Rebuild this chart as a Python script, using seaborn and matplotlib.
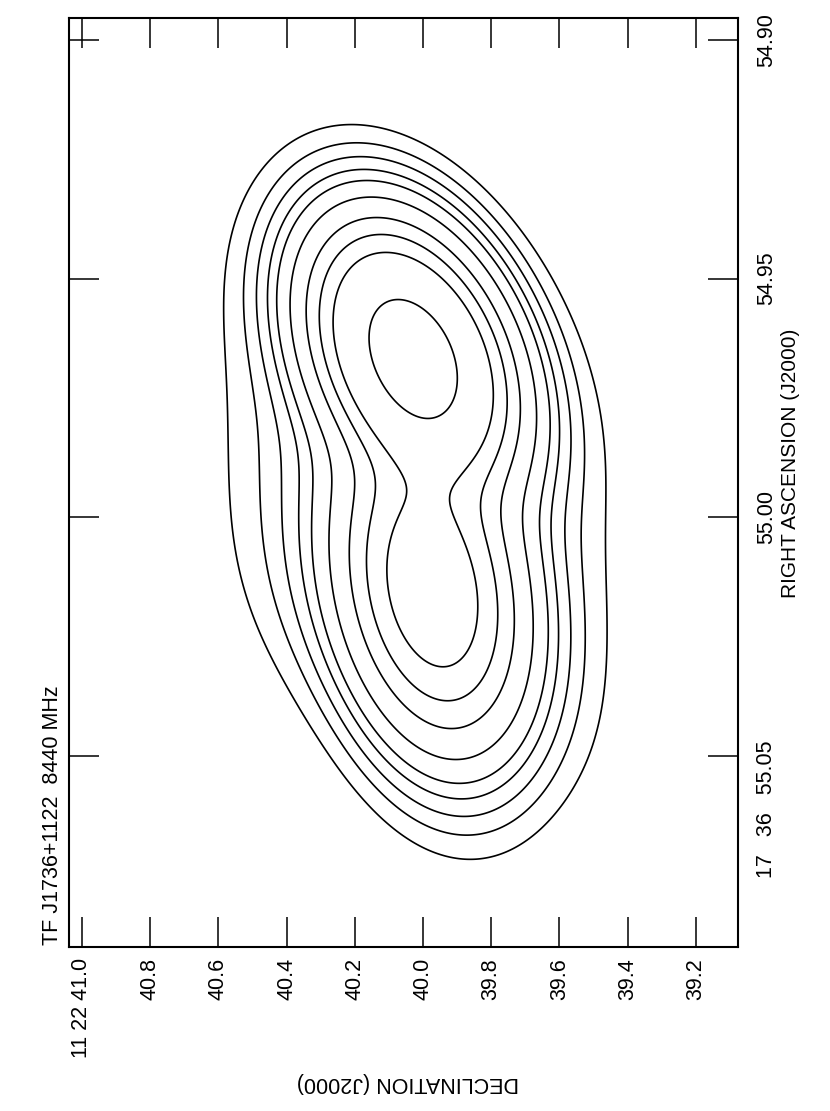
import numpy as np
import matplotlib
matplotlib.use("Agg")
import matplotlib.pyplot as plt
import seaborn as sns
from matplotlib.transforms import ScaledTranslation, blended_transform_factory

sns.set_theme(style="white")
plt.rcParams["font.family"] = ["Liberation Sans", "DejaVu Sans"]

# ---------------- text ----------------
title = "TF J1736+1122  8440 MHz"
x_label = "DECLINATION (J2000)"
y_label = "RIGHT ASCENSION (J2000)"

# ---------------- axes ----------------
dec_ticks = [41.0, 40.8, 40.6, 40.4, 40.2, 40.0, 39.8, 39.6, 39.4, 39.2]
dec_tick_labels = ["11 22 41.0", "40.8", "40.6", "40.4", "40.2",
                   "40.0", "39.8", "39.6", "39.4", "39.2"]
ra_ticks = [54.90, 54.95, 55.00, 55.05]
ra_tick_labels = ["54.90", "54.95", "55.00", "17   36   55.05"]
dec_range = [41.038, 39.076]
ra_range = [55.090, 54.8954]

# ---------------- contour crossings ----------------
# level index (1 = outermost ... 10 = innermost), Dec (arcsec), RA (s)
cont_level = ([1] * 16 + [2] * 13 + [3, 3, 4, 4, 5, 5, 6, 6, 7, 7, 8, 8]
              + [9] * 20 + [10] * 11)
cont_dec = [
    # level 1
    40.261, 40.408, 40.563, 40.569, 40.569, 40.513, 40.308, 40.103,
    39.956, 39.713, 39.528, 39.463, 39.487, 39.537, 39.674, 39.968,
    # level 2
    40.261, 40.425, 40.481, 40.446, 40.358, 40.144, 39.868, 39.616,
    39.507, 39.545, 39.566, 39.713, 39.909,
    # levels 3-8 (across the waist)
    40.422, 39.601, 40.372, 39.639, 40.337, 39.698,
    40.284, 39.736, 40.220, 39.795, 40.161, 39.850,
    # level 9
    40.161, 40.226, 40.191, 40.123, 40.056, 40.103, 40.117, 40.094,
    40.044, 39.927, 39.859, 39.839, 39.859, 39.897, 39.924, 39.889,
    39.839, 39.830, 39.850, 39.909,
    # level 10
    40.123, 40.152, 40.144, 40.103, 40.044, 39.985, 39.938, 39.909,
    39.927, 39.968, 40.044,
]
cont_ra = [
    # level 1
    54.9189, 54.9214, 54.9419, 54.9754, 54.9964, 55.0173, 55.0418, 55.0599,
    55.0712, 55.0687, 55.0557, 55.0347, 54.9999, 54.9656, 54.9461, 54.9258,
    # level 2
    54.9230, 54.9300, 54.9964, 55.0159, 55.0293, 55.0523, 55.0620, 55.0557,
    55.0347, 54.9964, 54.9670, 54.9440, 54.9321,
    # levels 3-8
    54.9964, 54.9964, 54.9964, 54.9964, 54.9964, 54.9964,
    54.9964, 54.9964, 54.9964, 54.9964, 54.9964, 54.9964,
    # level 9
    54.9467, 54.9545, 54.9754, 54.9895, 54.9964, 55.0048, 55.0138, 55.0209,
    55.0272, 55.0309, 55.0278, 55.0209, 55.0104, 55.0033, 54.9964, 54.9895,
    54.9790, 54.9685, 54.9614, 54.9524,
    # level 10
    54.9538, 54.9608, 54.9670, 54.9719, 54.9775, 54.9792, 54.9775, 54.9706,
    54.9629, 54.9580, 54.9538,
]

# ---------------- source model shapes ----------------
# compact knots (Dec, RA, sigma major/minor arcsec, tilt deg)
knot_dec = [40.029, 39.971]
knot_ra = [54.9664, 55.0152]
knot_major = [0.200, 0.240]
knot_minor = [0.123, 0.126]
knot_tilt = [23.0, 10.0]
# ridge line (start, end) smoothed by two tilted beams
ridge_dec = [40.023, 40.023]
ridge_ra = [54.9578, 55.0322]
ridge_major = [0.258, 0.400]
ridge_minor = [0.162, 0.250]
ridge_tilt = [45.0, 45.0]
# diffuse halo
halo_dec, halo_ra = 40.0205, 54.9953
halo_major, halo_minor, halo_tilt = 0.70, 0.45, 10.0

cosd = np.cos(np.deg2rad(11 + 22 / 60 + 40 / 3600))


def erf(x):
    s = np.sign(x)
    x = np.abs(x)
    t = 1.0 / (1.0 + 0.3275911 * x)
    y = 1.0 - (((((1.061405429 * t - 1.453152027) * t) + 1.421413741) * t
                - 0.284496736) * t + 0.254829592) * t * np.exp(-x * x)
    return s * y


def offsets(dec, ra, d0, r0):
    return -(np.asarray(dec, float) - d0), (np.asarray(ra, float) - r0) * 15.0 * cosd


def axes_coords(x, y, smaj, smin, tilt):
    th = np.deg2rad(tilt)
    a = (x * np.sin(th) + y * np.cos(th)) / smaj
    b = (x * np.cos(th) - y * np.sin(th)) / smin
    return a, b


def gauss(dec, ra, d0, r0, smaj, smin, tilt):
    x, y = offsets(dec, ra, d0, r0)
    a, b = axes_coords(x, y, smaj, smin, tilt)
    return np.exp(-0.5 * (a * a + b * b))


def line(dec, ra, d1, r1, d2, r2, smaj, smin, tilt):
    qx, qy = offsets(dec, ra, d1, r1)
    vx, vy = offsets(d2, r2, d1, r1)
    qa, qb = axes_coords(qx, qy, smaj, smin, tilt)
    va, vb = axes_coords(vx, vy, smaj, smin, tilt)
    alpha = va * va + vb * vb
    beta = qa * va + qb * vb
    t0 = beta / alpha
    s = np.sqrt(alpha / 2.0)
    return (np.exp(-0.5 * (qa * qa + qb * qb - beta * beta / alpha))
            * 0.5 * (erf(s * (1.0 - t0)) + erf(s * t0)))


def basis(dec, ra):
    out = []
    for i in range(len(knot_dec)):
        out.append(gauss(dec, ra, knot_dec[i], knot_ra[i], knot_major[i],
                         knot_minor[i], knot_tilt[i]))
    for i in range(len(ridge_major)):
        out.append(line(dec, ra, ridge_dec[0], ridge_ra[0], ridge_dec[1],
                        ridge_ra[1], ridge_major[i], ridge_minor[i],
                        ridge_tilt[i]))
    out.append(gauss(dec, ra, halo_dec, halo_ra, halo_major, halo_minor,
                     halo_tilt))
    return out


# ---- fit component fluxes and contour levels to the read crossings ----
pd_ = np.array(cont_dec)
pr_ = np.array(cont_ra)
lev_idx = np.array(cont_level) - 1
nlev = lev_idx.max() + 1
G = np.array(basis(pd_, pr_)).T
nb = G.shape[1]


def solve(w):
    active = list(range(1, nb))
    while True:
        cols = [G[:, j] for j in active]
        cols += [-(lev_idx == k).astype(float) for k in range(nlev)]
        M = np.column_stack(cols) * w[:, None]
        rhs = -G[:, 0] * w
        sol = np.linalg.lstsq(M, rhs, rcond=None)[0]
        c = sol[:len(active)]
        if (c >= 0).all() or len(active) == 1:
            break
        active.pop(int(np.argmin(c)))
    amps = np.zeros(nb)
    amps[0] = 1.0
    amps[active] = c
    return amps, sol[len(active):]


def model(dec, ra, amps):
    return sum(a * b for a, b in zip(amps, basis(dec, ra)))


w = np.ones(len(pd_))
amps, lev = solve(w)
for _ in range(2):
    h = 0.004
    hr = h / (15.0 * cosd)
    gx = (model(pd_ + h, pr_, amps) - model(pd_ - h, pr_, amps)) / (2 * h)
    gy = (model(pd_, pr_ + hr, amps) - model(pd_, pr_ - hr, amps)) / (2 * h)
    w = 1.0 / (np.sqrt(gx ** 2 + gy ** 2) + 1e-6)
    amps, lev = solve(w)

levels = np.unique(np.sort(lev))

dec_grid = np.linspace(39.0, 41.1, 600)
ra_grid = np.linspace(54.885, 55.10, 700)
DEC, RA = np.meshgrid(dec_grid, ra_grid)
Z = model(DEC, RA, amps)

# ---------------- figure ----------------
W, H = 830, 1111
fig = plt.figure(figsize=(W / 100, H / 100), dpi=100)
fig.patch.set_facecolor("white")
ax = fig.add_axes([69 / W, 1 - 947 / H, (738 - 69) / W, (947 - 18) / H])
ax.set_facecolor("white")

ax.contour(DEC, RA, Z, levels=levels, colors="black", linewidths=1.2)

ax.set_xlim(dec_range)
ax.set_ylim(ra_range)

ax.set_xticks(dec_ticks)
ax.set_xticklabels(dec_tick_labels, rotation=90, fontsize=15.5)
ax.set_yticks(ra_ticks)
ax.set_yticklabels(ra_tick_labels[:-1] + [""], rotation=90, fontsize=15.5,
                   va="center")
ax.tick_params(axis="x", which="both", direction="in", length=21.6, width=1.1,
               top=True, bottom=True, labeltop=False, labelbottom=True,
               pad=8, colors="black")
ax.tick_params(axis="y", which="both", direction="in", length=21.6, width=1.1,
               left=True, right=True, labelleft=False, labelright=True,
               pad=13, colors="black")
for s in ax.spines.values():
    s.set_color("black")
    s.set_linewidth(1.5)
ax.grid(False)

trans = blended_transform_factory(ax.transAxes, ax.transData) + \
    ScaledTranslation(0.18, 0.16, fig.dpi_scale_trans)
ax.text(1.0, ra_ticks[-1], ra_tick_labels[-1], transform=trans, rotation=90,
        ha="left", va="top", fontsize=15.5, color="black")

fig.text(53 / W, 1 - 945 / H, title, rotation=90, ha="center", va="bottom",
         fontsize=15.5, color="black")
fig.text(408 / W, 1 - 1082 / H, x_label, rotation=180, ha="center",
         va="center", fontsize=15.5, color="black")
fig.text(790 / W, 1 - 463 / H, y_label, rotation=90, ha="center",
         va="center", fontsize=15, color="black")

fig.savefig("out.png", dpi=100, facecolor="white")
